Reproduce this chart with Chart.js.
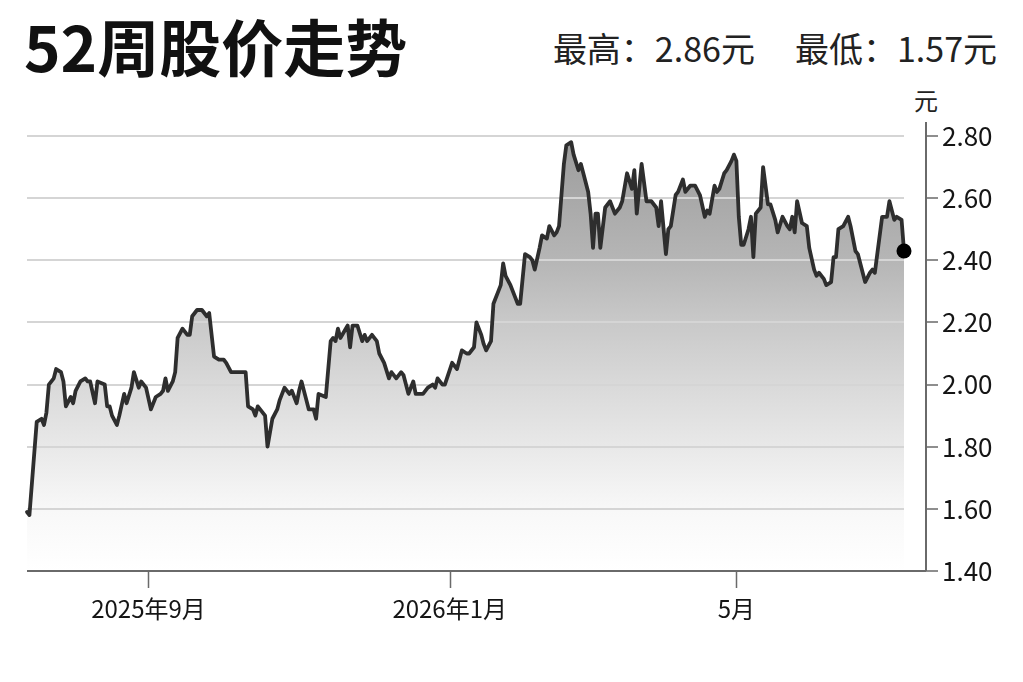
<!DOCTYPE html>
<html lang="zh-CN">
<head>
<meta charset="utf-8">
<title>52周股价走势</title>
<script src="https://cdn.jsdelivr.net/npm/chart.js@4.4.1/dist/chart.umd.min.js"></script>
<style>
  html, body { margin: 0; padding: 0; background: #fff; }
  body { width: 1023px; height: 682px; position: relative; overflow: hidden;
         font-family: "Noto Sans CJK SC", "Noto Sans", sans-serif; color: #111; }
  #chart { position: absolute; left: 0; top: 0; }
  .title { position: absolute; left: 24px; top: 14px; font-size: 62px; font-weight: 700;
           line-height: 1; letter-spacing: 0; color: #111; white-space: nowrap; }
  .range { position: absolute; right: 26px; top: 31px; font-size: 34px; line-height: 1;
           color: #222; white-space: nowrap; }
  .range span + span { margin-left: 40px; }
  .unit { position: absolute; left: 914px; top: 88px; font-size: 24px; line-height: 1; color: #222; }
</style>
</head>
<body>
<div class="title">52周股价走势</div>
<div class="range"><span>最高：2.86元</span><span>最低：1.57元</span></div>
<div class="unit">元</div>
<canvas id="chart" width="1023" height="682"></canvas>

<script>
// ─── DATA ─────────────────────────────────────────
// position along the 52-week window (trading-axis units, 0 = first session)
const days = [
  0, 1, 4, 6, 7, 8, 9, 11, 12, 14, 15, 16, 18, 19, 20, 22, 24, 25, 26, 28,
  29, 32, 33, 34, 35, 37, 38, 40, 41, 43, 44, 46, 47, 49, 51, 53, 55, 56, 57, 58,
  60, 61, 62, 64, 66, 67, 68, 70, 72, 74, 75, 77, 79, 81, 82, 84, 90, 91, 93, 94,
  95, 98, 99, 101, 103, 104, 106, 108, 109, 111, 112, 113, 115, 116, 118, 119, 120, 123, 125, 126,
  127, 128, 129, 132, 133, 134, 136, 138, 139, 140, 142, 144, 145, 147, 149, 150, 152, 154, 155, 157,
  159, 160, 163, 165, 167, 168, 169, 171, 172, 175, 177, 179, 181, 182, 184, 185, 187, 188, 189, 191,
  192, 194, 195, 196, 197, 199, 201, 202, 203, 205, 207, 208, 209, 211, 212, 214, 215, 217, 218, 219,
  221, 222, 224, 225, 227, 228, 229, 231, 232, 233, 234, 235, 236, 238, 240, 242, 244, 245, 247, 249,
  250, 251, 253, 255, 257, 259, 260, 261, 263, 264, 265, 267, 268, 270, 271, 273, 275, 277, 279, 280,
  281, 283, 284, 285, 287, 288, 290, 291, 292, 293, 294, 295, 297, 298, 299, 300, 302, 303, 305, 306,
  308, 309, 311, 313, 314, 315, 316, 317, 319, 321, 322, 324, 325, 326, 328, 329, 331, 332, 333, 334,
  336, 338, 339, 341, 342, 344, 345, 347, 348, 349, 350, 352, 354, 355, 357, 358, 360, 361
];
const prices = [
  1.59, 1.58, 1.88, 1.89, 1.87, 1.91, 2.00, 2.02, 2.05, 2.04, 2.01, 1.93, 1.96, 1.94, 1.98, 2.01, 2.02, 2.01, 2.01, 1.94,
  2.01, 2.00, 1.93, 1.93, 1.90, 1.87, 1.90, 1.97, 1.94, 1.99, 2.04, 1.99, 2.01, 1.99, 1.92, 1.96, 1.97, 1.98, 2.02, 1.98,
  2.01, 2.04, 2.15, 2.18, 2.16, 2.16, 2.22, 2.24, 2.24, 2.22, 2.23, 2.09, 2.08, 2.08, 2.07, 2.04, 2.04, 1.93, 1.92, 1.90,
  1.93, 1.90, 1.80, 1.89, 1.92, 1.95, 1.99, 1.97, 1.98, 1.94, 1.98, 2.01, 1.95, 1.92, 1.92, 1.89, 1.97, 1.96, 2.14, 2.15,
  2.14, 2.18, 2.15, 2.19, 2.12, 2.19, 2.19, 2.14, 2.16, 2.14, 2.16, 2.14, 2.10, 2.07, 2.02, 2.04, 2.02, 2.04, 2.03, 1.97,
  2.01, 1.97, 1.97, 1.99, 2.00, 1.99, 2.02, 2.00, 2.00, 2.07, 2.05, 2.11, 2.10, 2.10, 2.12, 2.20, 2.16, 2.13, 2.11, 2.14,
  2.26, 2.30, 2.32, 2.39, 2.35, 2.32, 2.28, 2.26, 2.26, 2.42, 2.41, 2.40, 2.37, 2.44, 2.48, 2.47, 2.51, 2.48, 2.49, 2.51,
  2.71, 2.77, 2.78, 2.74, 2.69, 2.71, 2.68, 2.62, 2.55, 2.44, 2.55, 2.55, 2.44, 2.57, 2.59, 2.55, 2.57, 2.59, 2.68, 2.63,
  2.69, 2.55, 2.71, 2.59, 2.59, 2.57, 2.51, 2.59, 2.42, 2.50, 2.51, 2.61, 2.62, 2.66, 2.62, 2.64, 2.64, 2.61, 2.54, 2.56,
  2.55, 2.64, 2.62, 2.63, 2.68, 2.69, 2.72, 2.74, 2.72, 2.54, 2.45, 2.45, 2.50, 2.54, 2.41, 2.55, 2.57, 2.70, 2.58, 2.58,
  2.53, 2.49, 2.54, 2.51, 2.50, 2.54, 2.49, 2.59, 2.52, 2.51, 2.44, 2.37, 2.35, 2.36, 2.34, 2.32, 2.33, 2.41, 2.41, 2.50,
  2.51, 2.54, 2.51, 2.43, 2.42, 2.36, 2.33, 2.36, 2.37, 2.36, 2.42, 2.54, 2.54, 2.59, 2.53, 2.54, 2.53, 2.43
];

const tickDays = [50, 174, 292];
const tickLabels = ['2025年9月', '2026年1月', '5月'];
const yMin = 1.40;
const yMax = 2.80;
const yStep = 0.20;

const FONT = '"Noto Sans CJK SC", "Noto Sans", sans-serif';

// ─── GRADIENT FILL ────────────────────────────────
function areaFill(context) {
    const area = context.chart.chartArea;
    if (!area) return null;
    const g = context.chart.ctx.createLinearGradient(0, area.top, 0, area.bottom);
    g.addColorStop(0, '#9c9c9c');
    g.addColorStop(0.15, '#a9a9a9');
    g.addColorStop(0.29, '#b6b6b6');
    g.addColorStop(0.43, '#c9c9c9');
    g.addColorStop(0.57, '#d9d9d9');
    g.addColorStop(0.72, '#e9e9e9');
    g.addColorStop(0.86, '#f8f8f8');
    g.addColorStop(1, '#ffffff');
    return g;
}

// ─── AXES / GRID (grid sits on the fill, under the line) ───
const axisPlugin = {
    id: 'axisLines',
    beforeDatasetDraw(chart, args) {
        if (args.index !== 0) return;
        const { ctx, chartArea: a, scales: { y } } = chart;
        ctx.save();
        ctx.strokeStyle = '#d5d5d5';
        ctx.lineWidth = 2;
        y.ticks.forEach(t => {
            if (t.value <= y.min + 1e-6) return;
            const py = Math.round(y.getPixelForValue(t.value));
            ctx.beginPath();
            ctx.moveTo(a.left, py);
            ctx.lineTo(a.right, py);
            ctx.stroke();
        });
        ctx.restore();
    },
    afterDatasetsDraw(chart) {
        const { ctx, chartArea: a, scales: { x, y } } = chart;
        const axisX = a.right + 22;
        const topY = y.getPixelForValue(yMax) - 14;
        ctx.save();
        ctx.strokeStyle = '#6a6a6a';
        ctx.lineWidth = 2;
        ctx.beginPath();
        ctx.moveTo(a.left, a.bottom);
        ctx.lineTo(axisX, a.bottom);
        ctx.moveTo(axisX, topY);
        ctx.lineTo(axisX, a.bottom);
        ctx.stroke();
        ctx.lineWidth = 1.5;
        ctx.beginPath();
        y.ticks.forEach(t => {
            const py = Math.round(y.getPixelForValue(t.value));
            ctx.moveTo(axisX, py);
            ctx.lineTo(axisX + 12, py);
        });
        x.ticks.forEach(t => {
            const px = Math.round(x.getPixelForValue(t.value)) + 0.5;
            ctx.moveTo(px, a.bottom);
            ctx.lineTo(px, a.bottom + 17);
        });
        ctx.stroke();
        ctx.restore();
    }
};

// ─── CHART ────────────────────────────────────────
function init() {
    const ctx = document.getElementById('chart').getContext('2d');
    const last = prices.length - 1;

    new Chart(ctx, {
        type: 'line',
        data: {
            datasets: [{
                data: days.map((d, i) => ({ x: d, y: prices[i] })),
                borderColor: '#2e2e2e',
                borderWidth: 3.8,
                borderJoinStyle: 'round',
                borderCapStyle: 'round',
                backgroundColor: areaFill,
                fill: 'start',
                tension: 0,
                clip: false,
                pointRadius: c => c.dataIndex === last ? 7.5 : 0,
                pointHoverRadius: c => c.dataIndex === last ? 7.5 : 0,
                pointBackgroundColor: '#000',
                pointBorderWidth: 0,
            }],
        },
        options: {
            responsive: false,
            animation: false,
            events: [],
            layout: { padding: { left: 27, top: 136, right: 19, bottom: 51 } },
            plugins: {
                legend: { display: false },
                tooltip: { enabled: false },
                filler: { drawTime: 'beforeDatasetsDraw' },
            },
            scales: {
                x: {
                    type: 'linear',
                    min: days[0],
                    max: days[last],
                    afterBuildTicks: s => { s.ticks = tickDays.map(v => ({ value: v })); },
                    afterFit: s => { s.height = 60; },
                    grid: { display: false },
                    border: { display: false },
                    ticks: {
                        autoSkip: false,
                        maxRotation: 0,
                        padding: 15,
                        color: '#151515',
                        font: { family: FONT, size: 24 },
                        callback: (v, i) => tickLabels[i],
                    },
                },
                y: {
                    position: 'right',
                    min: yMin,
                    max: yMax,
                    afterFit: s => { s.width = 100; },
                    grid: { display: false, drawTicks: false },
                    border: { display: false },
                    ticks: {
                        stepSize: yStep,
                        padding: 38,
                        color: '#151515',
                        font: { family: FONT, size: 26 },
                        callback: v => v.toFixed(2),
                    },
                },
            },
        },
        plugins: [axisPlugin],
    });
}

document.addEventListener('DOMContentLoaded', init);
</script>
</body>
</html>
